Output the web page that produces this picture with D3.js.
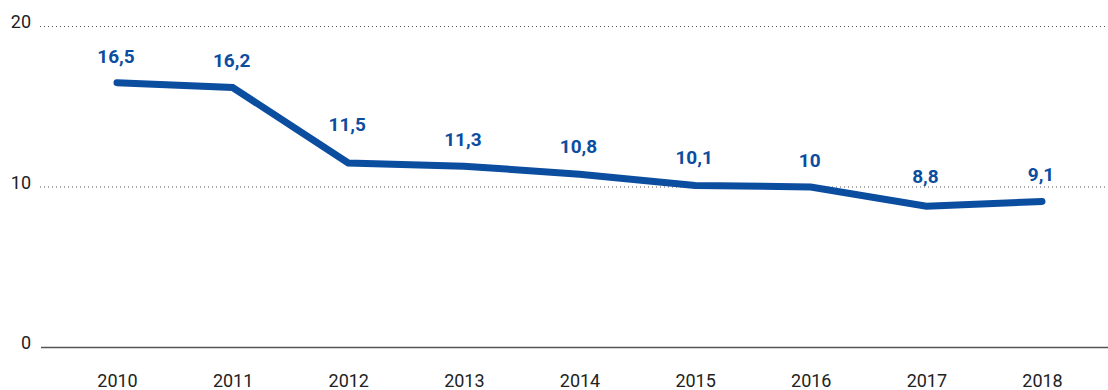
<!DOCTYPE html>
<html><head><meta charset="utf-8">
<script src="https://cdn.jsdelivr.net/npm/d3@7"></script>
<style>body{margin:0;background:#fff;} svg{display:block;}</style>
</head><body>
<svg id="c" width="1108" height="390"></svg>
<script>
const years = ["2010","2011","2012","2013","2014","2015","2016","2017","2018"];
const values = [16.5,16.2,11.5,11.3,10.8,10.1,10,8.8,9.1];
const labels = ["16,5","16,2","11,5","11,3","10,8","10,1","10","8,8","9,1"];
const yTicks = [0,10,20];

const svg = d3.select("#c");
const x = d3.scalePoint().domain(years).range([117,1042]);
const y = d3.scaleLinear().domain([0,20]).range([347.5,26.5]);
const font = "Roboto, 'Noto Sans', sans-serif";
const blue = "#0b4d9f";

// gridlines
svg.append("g").selectAll("line").data(yTicks).join("line")
  .attr("x1",d=>d===0?41:40).attr("x2",1108)
  .attr("y1",d=>y(d)).attr("y2",d=>y(d))
  .attr("stroke","#555")
  .attr("stroke-width",d=>d===0?1.6:1)
  .attr("stroke-dasharray",d=>d===0?null:"1,3");

// y tick labels
svg.append("g").selectAll("text").data(yTicks).join("text")
  .attr("x",31).attr("y",d=>y(d)+1.5)
  .attr("text-anchor","end")
  .attr("font-family",font).attr("font-size",18).attr("fill","#222")
  .text(d=>d);

// x axis labels
const xAxis = d3.axisBottom(x).tickSize(0).tickPadding(0);
const gx = svg.append("g").attr("transform","translate(0,387)").call(xAxis);
gx.select(".domain").remove();
gx.selectAll("text").attr("font-family",font).attr("font-size",18).attr("fill","#222").attr("dy",0);

// line
const pts = values.map((v,i)=>[x(years[i]), y(v)]);
svg.append("path").datum(pts)
  .attr("d", d3.line())
  .attr("fill","none").attr("stroke",blue).attr("stroke-width",7)
  .attr("stroke-linecap","round").attr("stroke-linejoin","miter");

// line y at a given pixel x (for placing labels clear of the line)
function lineY(px){
  if (px <= pts[0][0]) return pts[0][1];
  if (px >= pts[pts.length-1][0]) return pts[pts.length-1][1];
  for (let i=0;i<pts.length-1;i++){
    const [x0,y0]=pts[i],[x1,y1]=pts[i+1];
    if (px>=x0 && px<=x1) return y0+(y1-y0)*(px-x0)/(x1-x0);
  }
}
function labelY(px){
  let m = Infinity;
  for (let dx=-18; dx<=18; dx+=2) m = Math.min(m, lineY(px+dx));
  return m - 20;
}

// value labels
svg.append("g").selectAll("text").data(values).join("text")
  .attr("x",(d,i)=>x(years[i])-1).attr("y",(d,i)=>labelY(x(years[i])))
  .attr("text-anchor","middle")
  .attr("font-family",font).attr("font-size",19).attr("font-weight","bold").attr("fill",blue)
  .text((d,i)=>labels[i]);
</script>
</body></html>
